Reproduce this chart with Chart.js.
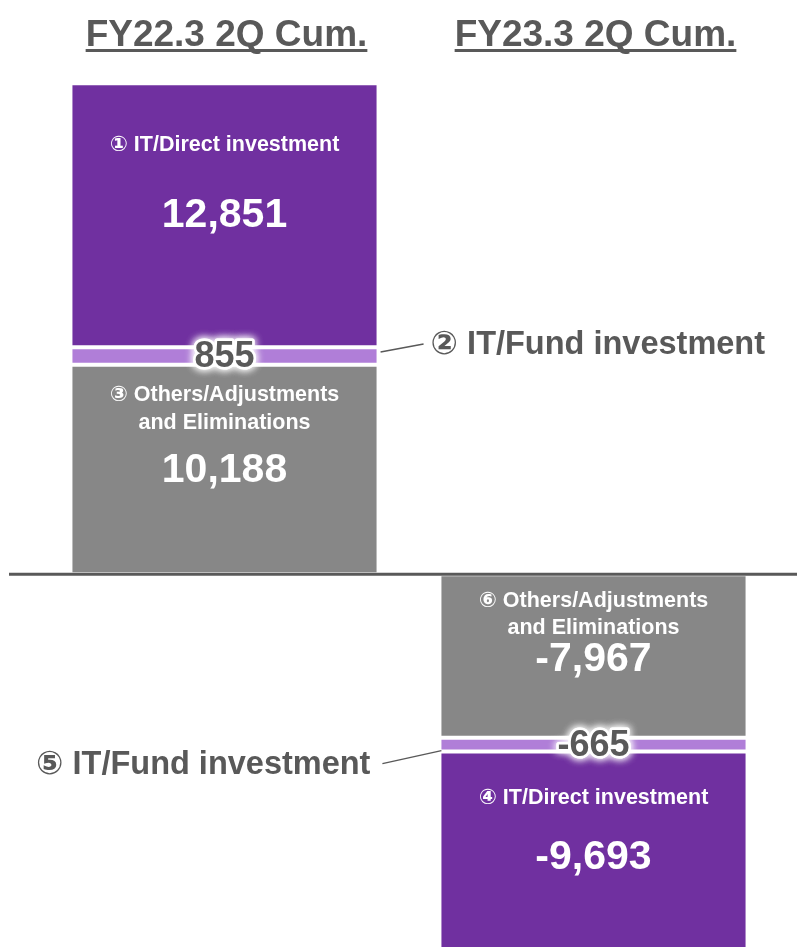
<!DOCTYPE html>
<html>
<head>
<meta charset="utf-8">
<script src="https://cdn.jsdelivr.net/npm/chart.js@4.4.0/dist/chart.umd.min.js"></script>
<style>
  html, body { margin: 0; padding: 0; background: #fff; }
  #c { display: block; }
</style>
</head>
<body>
<canvas id="c" width="797" height="947"></canvas>
<script>
// ========== Segment contribution: FY22.3 vs FY23.3 2Q cumulative ==========
const periods = ['FY22.3 2Q Cum.', 'FY23.3 2Q Cum.'];
const othersValues = [10188, -7967];
const fundValues = [855, -665];
const directValues = [12851, -9693];
const othersNames = [['③ Others/Adjustments', 'and Eliminations'], ['⑥ Others/Adjustments', 'and Eliminations']];
const fundNames = ['② IT/Fund investment', '⑤ IT/Fund investment'];
const directNames = [['① IT/Direct investment'], ['④ IT/Direct investment']];

const FONT = '"Liberation Sans", Arial, "DejaVu Sans", sans-serif';
const DARK = '#595959';

function fmt(v) { return v.toLocaleString('en-US'); }

// where name lines and the value sit inside a segment, measured from the segment's top edge
const inside = {
    '0-0': { lines: [30, 58], value: 106 },   // others, left
    '0-1': { lines: [27, 54], value: 86 },    // others, right
    '2-0': { lines: [62], value: 132 },       // direct, left
    '2-1': { lines: [47], value: 106 }        // direct, right
};

const labelPlugin = {
    id: 'segLabels',
    afterDatasetsDraw: function(chart) {
        var ctx = chart.ctx;
        var yScale = chart.scales.y;
        var zeroY = yScale.getPixelForValue(0);

        ctx.save();
        // zero line across full width
        ctx.strokeStyle = DARK;
        ctx.lineWidth = 3;
        ctx.beginPath();
        ctx.moveTo(9, zeroY);
        ctx.lineTo(chart.width, zeroY);
        ctx.stroke();

        ctx.textAlign = 'center';
        ctx.textBaseline = 'middle';

        // names + values inside the big segments
        [0, 2].forEach(function(di) {
            var names = di === 0 ? othersNames : directNames;
            var values = di === 0 ? othersValues : directValues;
            chart.getDatasetMeta(di).data.forEach(function(el, j) {
                var top = Math.min(el.y, el.base);
                var pos = inside[di + '-' + j];
                ctx.fillStyle = '#ffffff';
                ctx.font = 'bold 21.5px ' + FONT;
                names[j].forEach(function(line, k) {
                    ctx.fillText(line, el.x, top + pos.lines[k]);
                });
                ctx.font = 'bold 41px ' + FONT;
                ctx.fillText(fmt(values[j]), el.x, top + pos.value);
            });
        });

        // fund values with white glow, plus callouts
        chart.getDatasetMeta(1).data.forEach(function(el, j) {
            var top = Math.min(el.y, el.base);
            var bot = Math.max(el.y, el.base);
            var mid = (top + bot) / 2;
            var half = el.width / 2;
            ctx.font = 'bold 36px ' + FONT;
            ctx.textAlign = 'center';
            ctx.shadowColor = '#ffffff';
            ctx.shadowBlur = 9;
            ctx.lineJoin = 'round';
            ctx.strokeStyle = 'rgba(255,255,255,0.9)';
            ctx.lineWidth = 5;
            ctx.strokeText(fmt(fundValues[j]), el.x, mid + 1);
            ctx.strokeText(fmt(fundValues[j]), el.x, mid + 1);
            ctx.fillStyle = DARK;
            ctx.fillText(fmt(fundValues[j]), el.x, mid + 1);
            ctx.shadowBlur = 0;

            ctx.strokeStyle = DARK;
            ctx.lineWidth = 1.5;
            ctx.beginPath();
            ctx.font = 'bold 32.5px ' + FONT;
            if (j === 0) {
                ctx.moveTo(el.x + half + 2, mid - 4);
                ctx.lineTo(el.x + half + 45, mid - 12);
                ctx.stroke();
                ctx.textAlign = 'left';
                ctx.fillText(fundNames[j], el.x + half + 52, mid - 11);
            } else {
                ctx.moveTo(el.x - half + 2, mid + 6);
                ctx.lineTo(el.x - half - 57, mid + 19);
                ctx.stroke();
                ctx.textAlign = 'right';
                ctx.fillText(fundNames[j], el.x - half - 69, mid + 20);
            }
        });

        // period titles, underlined
        ctx.fillStyle = DARK;
        ctx.font = 'bold 37px ' + FONT;
        ctx.textAlign = 'center';
        ctx.textBaseline = 'alphabetic';
        chart.getDatasetMeta(0).data.forEach(function(el, j) {
            var w = ctx.measureText(periods[j]).width;
            ctx.fillText(periods[j], el.x + 2, 46);
            ctx.fillRect(el.x + 2 - w / 2, 49, w, 3);
        });
        ctx.restore();
    }
};

const chart = new Chart(document.getElementById('c').getContext('2d'), {
    type: 'bar',
    data: {
        labels: periods,
        datasets: [
            { label: 'Others/Adjustments and Eliminations', data: othersValues, backgroundColor: '#878787' },
            { label: 'IT/Fund investment', data: fundValues, backgroundColor: '#B07ED8' },
            { label: 'IT/Direct investment', data: directValues, backgroundColor: '#7030A0' }
        ].map(function(ds) {
            return Object.assign(ds, {
                borderColor: '#ffffff', borderWidth: 2, borderSkipped: false,
                barPercentage: 0.835, categoryPercentage: 1.0
            });
        })
    },
    options: {
        responsive: false,
        devicePixelRatio: 1,
        animation: false,
        layout: { padding: { top: 40, bottom: 0, left: 40, right: 19 } },
        plugins: { legend: { display: false }, tooltip: { enabled: false } },
        scales: {
            x: { stacked: true, display: false },
            y: { stacked: true, display: false, min: -18150, max: 26000 }
        }
    },
    plugins: [labelPlugin]
});
</script>
</body>
</html>
